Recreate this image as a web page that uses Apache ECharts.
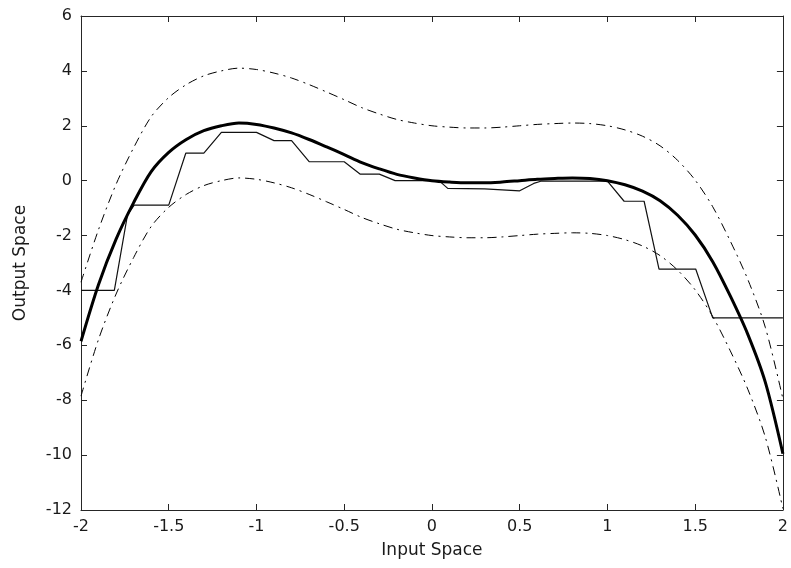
<!DOCTYPE html>
<html>
<head>
<meta charset="utf-8">
<script src="https://cdn.jsdelivr.net/npm/echarts@6/dist/echarts.min.js"></script>
<style>
  html, body { margin: 0; padding: 0; background: #ffffff; }
  #chart { width: 791px; height: 568px; }
</style>
</head>
<body>
<div id="chart"></div>
<script>
// ---- data ----
const xCurve = [-2, -1.9, -1.8, -1.7, -1.6, -1.5, -1.4, -1.3, -1.2, -1.1, -1.0,
  -0.9, -0.8, -0.7, -0.6, -0.5, -0.4, -0.3, -0.2, -0.1, 0,
  0.1, 0.2, 0.3, 0.4, 0.5, 0.6, 0.7, 0.8, 0.9, 1.0,
  1.1, 1.2, 1.3, 1.4, 1.5, 1.6, 1.7, 1.8, 1.9, 2.0];
const yFit = [-5.85, -3.78, -2.13, -0.8, 0.33, 1.03, 1.5, 1.82, 2.0, 2.1, 2.05,
  1.92, 1.74, 1.5, 1.23, 0.95, 0.66, 0.43, 0.23, 0.1, 0.0,
  -0.05, -0.08, -0.08, -0.05, 0.0, 0.05, 0.08, 0.1, 0.08, 0.0,
  -0.15, -0.38, -0.73, -1.26, -1.98, -2.95, -4.2, -5.6, -7.35, -9.95];
const yUpper = [-3.7, -1.78, -0.13, 1.2, 2.33, 3.03, 3.5, 3.82, 4.0, 4.1, 4.05,
  3.92, 3.74, 3.5, 3.23, 2.95, 2.66, 2.43, 2.23, 2.1, 2.0,
  1.95, 1.92, 1.92, 1.95, 2.0, 2.05, 2.08, 2.1, 2.08, 2.0,
  1.85, 1.62, 1.27, 0.74, 0.02, -0.95, -2.2, -3.6, -5.35, -7.95];
const yLower = [-7.85, -5.78, -4.13, -2.8, -1.67, -0.97, -0.5, -0.18, 0.0, 0.1, 0.05,
  -0.08, -0.26, -0.5, -0.77, -1.05, -1.34, -1.57, -1.77, -1.9, -2.0,
  -2.05, -2.08, -2.08, -2.05, -2.0, -1.95, -1.92, -1.9, -1.92, -2.0,
  -2.15, -2.38, -2.73, -3.26, -3.98, -4.95, -6.2, -7.6, -9.35, -11.95];
const xStep = [-2, -1.81, -1.735, -1.697, -1.5, -1.403, -1.3, -1.2, -1.0, -0.9, -0.8,
  -0.7, -0.5, -0.41, -0.3, -0.21, 0.04, 0.09, 0.3, 0.31, 0.5, 0.58, 0.62,
  1.0, 1.095, 1.209, 1.294, 1.503, 1.6, 2.0];
const yStep = [-4.0, -4.0, -1.25, -0.89, -0.89, 1.0, 1.0, 1.76, 1.76, 1.46, 1.46,
  0.69, 0.69, 0.24, 0.24, 0.0, 0.0, -0.28, -0.3, -0.37, -0.37, -0.1, -0.02,
  -0.02, -0.75, -0.75, -3.22, -3.22, -5.0, -5.0];
const xName = 'Input Space';
const yName = 'Output Space';

const pairs = (xs, ys) => xs.map((x, i) => [x, ys[i]]);
const FONT = 'DejaVu Sans';
const AX = '#262626';

const chart = echarts.init(document.getElementById('chart'), null, { renderer: 'canvas' });

const fmt = v => String(Math.round(v * 10) / 10);

const option = {
  animation: false,
  backgroundColor: '#ffffff',
  grid: { left: 81, right: 7, top: 16, bottom: 58, containLabel: false },
  xAxis: [
    {
      type: 'value', min: -2, max: 2, interval: 0.5, position: 'bottom',
      name: xName, nameLocation: 'middle', nameGap: 32,
      nameTextStyle: { fontFamily: FONT, fontSize: 17, color: '#1a1a1a' },
      axisLine: { onZero: false, lineStyle: { color: AX, width: 1 } },
      axisTick: { inside: true, length: 6, lineStyle: { color: AX } },
      axisLabel: { fontFamily: FONT, fontSize: 16, color: '#1a1a1a', margin: 9, formatter: fmt },
      splitLine: { show: false }
    },
    {
      type: 'value', min: -2, max: 2, interval: 0.5, position: 'top',
      axisLine: { onZero: false, lineStyle: { color: AX, width: 1 } },
      axisTick: { inside: true, length: 6, lineStyle: { color: AX } },
      axisLabel: { show: false },
      splitLine: { show: false }
    }
  ],
  yAxis: [
    {
      type: 'value', min: -12, max: 6, interval: 2, position: 'left',
      name: yName, nameLocation: 'middle', nameGap: 52, nameRotate: 90,
      nameTextStyle: { fontFamily: FONT, fontSize: 17, color: '#1a1a1a' },
      axisLine: { onZero: false, lineStyle: { color: AX, width: 1 } },
      axisTick: { inside: true, length: 6, lineStyle: { color: AX } },
      axisLabel: { fontFamily: FONT, fontSize: 16, color: '#1a1a1a', margin: 9 },
      splitLine: { show: false }
    },
    {
      type: 'value', min: -12, max: 6, interval: 2, position: 'right',
      axisLine: { onZero: false, lineStyle: { color: AX, width: 1 } },
      axisTick: { inside: true, length: 6, lineStyle: { color: AX } },
      axisLabel: { show: false },
      splitLine: { show: false }
    }
  ],
  series: [
    {
      name: 'upper', type: 'line', xAxisIndex: 0, yAxisIndex: 0,
      data: pairs(xCurve, yUpper), showSymbol: false, smooth: 0.3,
      lineStyle: { color: '#000', width: 1, type: [9, 5, 2, 5] }, z: 2
    },
    {
      name: 'lower', type: 'line', xAxisIndex: 0, yAxisIndex: 0,
      data: pairs(xCurve, yLower), showSymbol: false, smooth: 0.3,
      lineStyle: { color: '#000', width: 1, type: [9, 5, 2, 5] }, z: 2
    },
    {
      name: 'step', type: 'line', xAxisIndex: 0, yAxisIndex: 0,
      data: pairs(xStep, yStep), showSymbol: false, smooth: false,
      lineStyle: { color: '#111', width: 1.2 }, z: 3
    },
    {
      name: 'fit', type: 'line', xAxisIndex: 0, yAxisIndex: 0,
      data: pairs(xCurve, yFit), showSymbol: false, smooth: 0.3,
      lineStyle: { color: '#000', width: 3 }, z: 4
    }
  ]
};
chart.setOption(option);
</script>
</body>
</html>
